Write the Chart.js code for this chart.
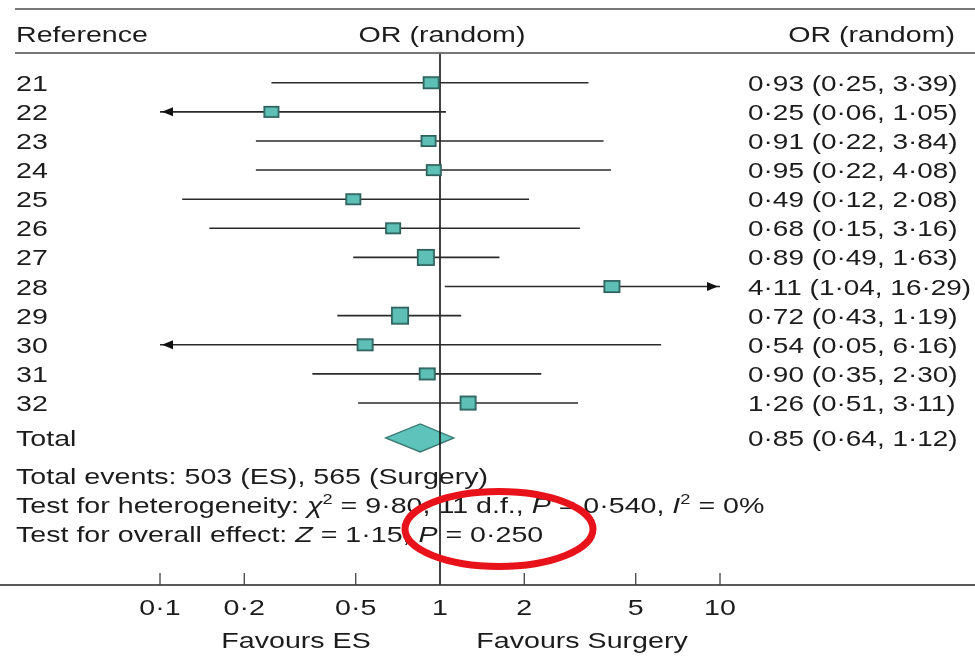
<!DOCTYPE html>
<html>
<head>
<meta charset="utf-8">
<script src="https://cdn.jsdelivr.net/npm/chart.js@4.4.1/dist/chart.umd.min.js"></script>
<style>
html,body{margin:0;padding:0;background:#fff;}
#wrap{width:975px;height:658px;position:relative;}
</style>
</head>
<body>
<div id="wrap"><canvas id="c" width="975" height="658"></canvas></div>
<script>
// ---- data ----
const references   = ['21','22','23','24','25','26','27','28','29','30','31','32'];
const oddsRatios   = [0.93, 0.25, 0.91, 0.95, 0.49, 0.68, 0.89, 4.11, 0.72, 0.54, 0.90, 1.26];
const ciLower      = [0.25, 0.06, 0.22, 0.22, 0.12, 0.15, 0.49, 1.04, 0.43, 0.05, 0.35, 0.51];
const ciUpper      = [3.39, 1.05, 3.84, 4.08, 2.08, 3.16, 1.63, 16.29, 1.19, 6.16, 2.30, 3.11];
const studyWeights = [5.2, 4.6, 4.4, 4.3, 3.9, 4.1, 19.5, 5.0, 24.0, 6.0, 7.0, 12.0];
const totalEstimate = [0.85, 0.64, 1.12];           // OR, lower, upper
const tickValues = [0.1, 0.2, 0.5, 1, 2, 5, 10];
const tickLabels = ['0·1', '0·2', '0·5', '1', '2', '5', '10'];
const headerLabels = ['Reference', 'OR (random)', 'OR (random)'];
const sideLabels = ['Favours ES', 'Favours Surgery'];
const footerLine1 = [{t:'Total events: 503 (ES), 565 (Surgery)'}];
const footerLine2 = [{t:'Test for heterogeneity: '},{t:'χ',i:1},{t:'2',s:1},{t:' = 9·80, 11 d.f., '},{t:'P',i:1},{t:' = 0·540, '},{t:'I',i:1},{t:'2',s:1},{t:' = 0%'}];
const footerLine3 = [{t:'Test for overall effect: '},{t:'Z',i:1},{t:' = 1·15, '},{t:'P',i:1},{t:' = 0·250'}];

// ---- style ----
const FAM = '"Liberation Sans", Arial, Helvetica, sans-serif';
const FS = 22;
const SX = 1.3;              // horizontal stretch of the reference typography
const SXV = 1.27;            // value column
const TXT = '#1c1c1c';
const TOTAL_ROW = 12.2;
const fmt = v => v.toFixed(2).replace('.', '·');

function makeBox(w) {
  const h = 11 + 0.3 * w;
  const wd = Math.max(h, 16 + 0.1 * w);
  const c = document.createElement('canvas');
  c.width = Math.round(wd) + 2; c.height = Math.round(h) + 2;
  const g = c.getContext('2d');
  g.fillStyle = '#5dbfb6';
  g.fillRect(1, 1, c.width - 2, c.height - 2);
  g.strokeStyle = '#2d5f5b'; g.lineWidth = 1.7;
  g.strokeRect(1.85, 1.85, c.width - 3.7, c.height - 3.7);
  return c;
}
const boxStyles = studyWeights.map(makeBox);

function txt(ctx, s, x, y, align, font, sx) {
  ctx.save();
  ctx.font = font || (FS + 'px ' + FAM);
  ctx.textAlign = align || 'left';
  ctx.textBaseline = 'alphabetic';
  ctx.fillStyle = TXT;
  ctx.translate(x, y); ctx.scale(sx || SX, 1);
  ctx.fillText(s, 0, 0);
  ctx.restore();
}
function rich(ctx, segs, x, y) {
  let cx = x;
  segs.forEach(sg => {
    const size = sg.s ? 14 : FS;
    const font = (sg.i ? 'italic ' : '') + size + 'px ' + FAM;
    ctx.save(); ctx.font = font;
    const w = ctx.measureText(sg.t).width * SX;
    ctx.restore();
    txt(ctx, sg.t, cx, y - (sg.s ? 9 : 0), 'left', font);
    cx += w;
  });
  return cx;
}

const forestPlugin = {
  id: 'forest',
  beforeDatasetsDraw(chart) {
    const {ctx, scales: {x, y}} = chart;
    const yT = y.getPixelForValue(TOTAL_ROW);
    const xl = x.getPixelForValue(totalEstimate[1]);
    const xe = x.getPixelForValue(totalEstimate[0]);
    const xh = x.getPixelForValue(totalEstimate[2]);
    ctx.save();
    ctx.beginPath();
    ctx.moveTo(xl, yT); ctx.lineTo(xe, yT - 14); ctx.lineTo(xh, yT); ctx.lineTo(xe, yT + 14); ctx.closePath();
    ctx.fillStyle = '#5ec3ba'; ctx.fill();
    ctx.strokeStyle = '#3b7a75'; ctx.lineWidth = 1.4; ctx.stroke();
    ctx.restore();
  },
  afterDatasetsDraw(chart) {
    const {ctx, chartArea: ca, scales: {x, y}} = chart;
    ctx.save();
    ctx.fillStyle = '#111';
    references.forEach((r, i) => {
      const py = y.getPixelForValue(i);
      if (ciLower[i] < x.min) {
        const tx = ca.left + 2;
        ctx.beginPath(); ctx.moveTo(tx, py); ctx.lineTo(tx + 11, py - 4.5); ctx.lineTo(tx + 11, py + 4.5); ctx.closePath(); ctx.fill();
      }
      if (ciUpper[i] > x.max) {
        const tx = ca.right - 2;
        ctx.beginPath(); ctx.moveTo(tx, py); ctx.lineTo(tx - 11, py - 4.5); ctx.lineTo(tx - 11, py + 4.5); ctx.closePath(); ctx.fill();
      }
    });
    ctx.restore();
  },
  afterDraw(chart) {
    const {ctx, chartArea: ca, scales: {x, y}} = chart;
    const W = chart.width;
    ctx.save();
    // rules
    ctx.strokeStyle = '#4a4a4a'; ctx.lineWidth = 1.6;
    ctx.beginPath(); ctx.moveTo(15, 9); ctx.lineTo(W, 9); ctx.stroke();
    ctx.beginPath(); ctx.moveTo(15, 53); ctx.lineTo(W, 53); ctx.stroke();
    // axis line + ticks
    ctx.strokeStyle = '#222'; ctx.lineWidth = 1.6;
    ctx.beginPath(); ctx.moveTo(0, ca.bottom); ctx.lineTo(W, ca.bottom); ctx.stroke();
    ctx.lineWidth = 1.3; ctx.strokeStyle = '#444';
    tickValues.forEach(v => {
      const px = x.getPixelForValue(v);
      ctx.beginPath(); ctx.moveTo(px, ca.bottom); ctx.lineTo(px, ca.bottom - 12); ctx.stroke();
    });
    ctx.restore();

    // header
    const x1 = x.getPixelForValue(1);
    txt(ctx, headerLabels[0], 16, 42, 'left');
    txt(ctx, headerLabels[1], x1 + 2, 42, 'center');
    txt(ctx, headerLabels[2], 955, 42, 'right');
    // study rows
    references.forEach((r, i) => {
      const py = y.getPixelForValue(i) + 8;
      txt(ctx, r, 16, py, 'left');
      txt(ctx, fmt(oddsRatios[i]) + ' (' + fmt(ciLower[i]) + ', ' + fmt(ciUpper[i]) + ')', 748, py, 'left', null, SXV);
    });
    const pyT = y.getPixelForValue(TOTAL_ROW) + 8;
    txt(ctx, 'Total', 16, pyT, 'left');
    txt(ctx, fmt(totalEstimate[0]) + ' (' + fmt(totalEstimate[1]) + ', ' + fmt(totalEstimate[2]) + ')', 748, pyT, 'left', null, SXV);
    // footer
    rich(ctx, footerLine1, 16, 484);
    rich(ctx, footerLine2, 16, 513);
    rich(ctx, footerLine3, 16, 542);
    // tick labels
    tickValues.forEach((v, k) => {
      txt(ctx, tickLabels[k], x.getPixelForValue(v), 615, 'center');
    });
    // favours labels
    const leftMid = x.getPixelForValue(Math.sqrt(x.min * 1));
    const rightMid = x.getPixelForValue(Math.sqrt(x.max * 1));
    txt(ctx, sideLabels[0], leftMid - 4, 648, 'center');
    txt(ctx, sideLabels[1], rightMid + 2, 648, 'center');
    // red highlight ellipse
    ctx.save();
    ctx.strokeStyle = '#e8121a'; ctx.lineWidth = 7;
    ctx.beginPath(); ctx.ellipse(499, 529, 94, 37.5, 0, 0, Math.PI * 2); ctx.stroke();
    ctx.restore();
  }
};

const ciDatasets = references.map((r, i) => ({
  type: 'scatter',
  label: 'CI ' + r,
  data: [{x: ciLower[i], y: i}, {x: ciUpper[i], y: i}],
  showLine: true,
  borderColor: '#2a2a2a',
  borderWidth: 1.6,
  pointRadius: 0,
  clip: 0,
  order: 2
}));

new Chart(document.getElementById('c'), {
  type: 'scatter',
  data: {
    datasets: [
      {
        label: 'OR',
        data: oddsRatios.map((v, i) => ({x: v, y: i})),
        pointStyle: boxStyles,
        pointRadius: 6,
        order: 1
      },
      ...ciDatasets,
      {
        label: 'No effect',
        data: [{x: 1, y: -1}, {x: 1, y: 17.25}],
        showLine: true,
        borderColor: '#111',
        borderWidth: 1.6,
        pointRadius: 0,
        clip: 0,
        order: 3
      }
    ]
  },
  options: {
    responsive: false,
    animation: false,
    layout: {padding: {left: 160, right: 255, top: 53.6, bottom: 73}},
    plugins: {legend: {display: false}, tooltip: {enabled: false}},
    scales: {
      x: {
        type: 'logarithmic', min: 0.1, max: 10, display: false,
        afterBuildTicks: s => { s.ticks = tickValues.map(v => ({value: v})); }
      },
      y: {type: 'linear', min: -1, max: 17.25, reverse: true, display: false}
    }
  },
  plugins: [forestPlugin]
});
</script>
</body>
</html>
